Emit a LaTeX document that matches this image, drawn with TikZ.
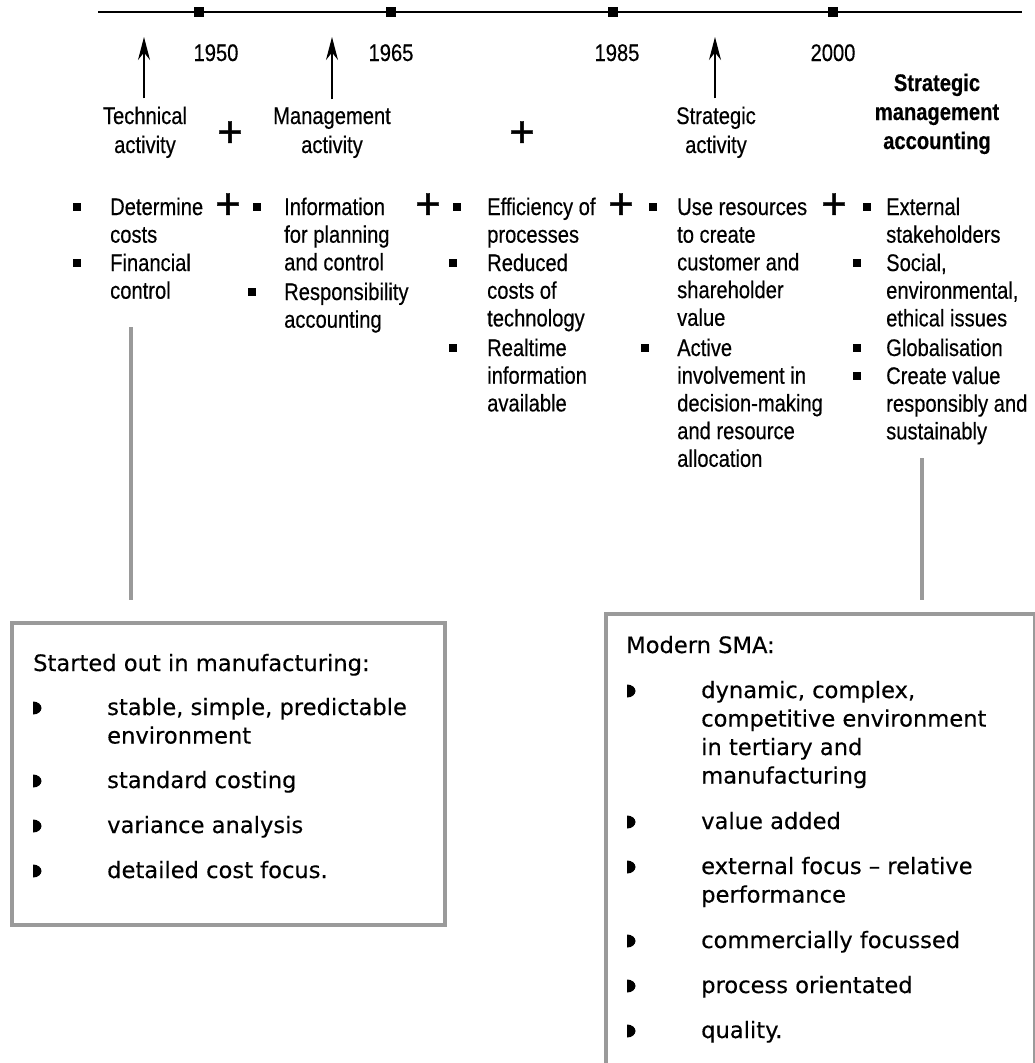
\documentclass[tikz,border=0pt]{standalone}
\usepackage{fontspec}
\setmainfont{Liberation Sans}
\newfontfamily\narrowfont[FakeStretch=0.84, FakeBold=0.4]{Liberation Sans}
\newfontfamily\plusfont[FakeBold=0.8]{Liberation Sans}
\newfontfamily\boxfont[FakeBold=0.3]{DejaVu Sans}
\usetikzlibrary{arrows.meta}

\begin{document}
\begin{tikzpicture}[x=1pt, y=-1pt,
    tick/.style={fill=black, minimum size=10pt, inner sep=0},
    yearlbl/.style={anchor=base, inner sep=0, font=\narrowfont\fontsize{24}{29}\selectfont},
    stagelbl/.style={anchor=base, inner sep=0, font=\narrowfont\fontsize{24}{29}\selectfont},
    itemtxt/.style={anchor=base west, inner sep=0, font=\narrowfont\fontsize{24}{27.7}\selectfont},
    sqbullet/.style={fill=black, minimum size=8.5pt, inner sep=0},
    plussign/.style={inner sep=0, font=\plusfont\fontsize{44}{44}\selectfont},
    boxtxt/.style={anchor=base west, inner sep=0, font=\boxfont\fontsize{22.6}{28.5}\selectfont},
    infobox/.style={draw=linkColour, line width=3.5pt, anchor=north west, inner sep=0},
    link/.style={draw=linkColour, line width=4pt},
    upArrow/.style={line width=1.3pt, -{Stealth[length=23pt, width=12pt]}}
  ]
    \useasboundingbox (0,0) rectangle (1034,1063);
    \def\tlY{12}
    \def\lblstack#1{\parbox[t]{220pt}{\centering #1}}
    \def\itembox#1{\parbox[t]{330pt}{\raggedright #1}}
    \def\halfbullet(#1,#2){\fill (#1,#2-6.5) arc[start angle=-90, end angle=90, x radius=8.5, y radius=6.5] -- cycle;}

    \definecolor{linkColour}{HTML}{9A9A9A}

    % Timeline
    \coordinate (tlStart) at (98,\tlY);
    \coordinate (tlEnd) at (1022,\tlY);
    \draw[line width=2.7pt] (tlStart) -- (tlEnd);
    \node[tick] (tk1950) at (199,\tlY) {};
    \node[tick] (tk1965) at (391,\tlY) {};
    \node[tick] (tk1985) at (613,\tlY) {};
    \node[tick] (tk2000) at (833,\tlY) {};

    \node[yearlbl] (y1950) at (216,61) {1950};
    \node[yearlbl] (y1965) at (391,61) {1965};
    \node[yearlbl] (y1985) at (617,61) {1985};
    \node[yearlbl] (y2000) at (833,61) {2000};

    % Stages
    \node[stagelbl] (techAct) at (145,124) {\lblstack{Technical\\activity}};
    \node[stagelbl] (mgmtAct) at (332,124) {\lblstack{Management\\activity}};
    \node[stagelbl] (stratAct) at (716,124) {\lblstack{Strategic\\activity}};
    \node[stagelbl, font=\narrowfont\bfseries\fontsize{24}{29}\selectfont] (smaLbl) at (937,91) {\lblstack{Strategic\\management\\accounting}};

    \coordinate (techTip) at (144,37);
    \coordinate (mgmtTip) at (332,37);
    \coordinate (stratTip) at (715,37);
    \draw[upArrow, shorten <=8pt] (techTip |- techAct.north) -- (techTip);
    \draw[upArrow, shorten <=8pt] (mgmtTip |- mgmtAct.north) -- (mgmtTip);
    \draw[upArrow, shorten <=8pt] (stratTip |- stratAct.north) -- (stratTip);

    \node[plussign] (plusA) at (230,134) {+};
    \node[plussign] (plusB) at (522,134) {+};

    % Column 1
    \node[sqbullet] (b11) at (77,207) {};
    \node[itemtxt] (i11) at (110,215) {\itembox{Determine\\costs}};
    \node[sqbullet] (b12) at (77,263) {};
    \node[itemtxt] (i12) at (110,271) {\itembox{Financial\\control}};
    \node[plussign] (p12) at (228,206) {+};

    % Column 2
    \node[sqbullet] (b21) at (257,207) {};
    \node[itemtxt] (i21) at (284,215) {\itembox{Information\\for planning\\and control}};
    \node[sqbullet] (b22) at (252,292) {};
    \node[itemtxt] (i22) at (284,300) {\itembox{Responsibility\\accounting}};
    \node[plussign] (p23) at (428,206) {+};

    % Column 3
    \node[sqbullet] (b31) at (457,207) {};
    \node[itemtxt] (i31) at (487,215) {\itembox{Efficiency of\\processes}};
    \node[sqbullet] (b32) at (453,263) {};
    \node[itemtxt] (i32) at (487,271) {\itembox{Reduced\\costs of\\technology}};
    \node[sqbullet] (b33) at (453,348) {};
    \node[itemtxt] (i33) at (487,356) {\itembox{Realtime\\information\\available}};
    \node[plussign] (p34) at (621,206) {+};

    % Column 4
    \node[sqbullet] (b41) at (653,207) {};
    \node[itemtxt] (i41) at (677,215) {\itembox{Use resources\\to create\\customer and\\shareholder\\value}};
    \node[sqbullet] (b42) at (645,348) {};
    \node[itemtxt] (i42) at (677,356) {\itembox{Active\\involvement in\\decision-making\\and resource\\allocation}};
    \node[plussign] (p45) at (834,206) {+};

    % Column 5
    \node[sqbullet] (b51) at (867,207) {};
    \node[itemtxt] (i51) at (886,215) {\itembox{External\\stakeholders}};
    \node[sqbullet] (b52) at (857,263) {};
    \node[itemtxt] (i52) at (886,271) {\itembox{Social,\\environmental,\\ethical issues}};
    \node[sqbullet] (b53) at (857,348) {};
    \node[itemtxt] (i53) at (886,356) {\itembox{Globalisation}};
    \node[sqbullet] (b54) at (857,376) {};
    \node[itemtxt] (i54) at (886,384) {\itembox{Create value\\responsibly and\\sustainably}};

    % Boxes
    \node[infobox, minimum width=433pt, minimum height=302pt] (leftBox) at (10,621) {};
    \node[infobox, minimum width=429pt, minimum height=480pt] (rightBox) at (604,612) {};

    \coordinate (techLinkTop) at (131,327);
    \coordinate (smaLinkTop) at (922,458);
    \draw[link, shorten >=21pt] (techLinkTop) -- (techLinkTop |- leftBox.north);
    \draw[link, shorten >=12pt] (smaLinkTop) -- (smaLinkTop |- rightBox.north);

    % Left box text
    \node[boxtxt] (leftHead) at (33,671) {Started out in manufacturing:};
    \node[boxtxt] (lb1) at (107,715) {\itembox{stable, simple, predictable\\environment}};
    \node[boxtxt] (lb2) at (107,788) {standard costing};
    \node[boxtxt] (lb3) at (107,833) {variance analysis};
    \node[boxtxt] (lb4) at (107,878) {detailed cost focus.};
    \halfbullet(33,708)
    \halfbullet(33,781)
    \halfbullet(33,826)
    \halfbullet(33,871)

    % Right box text
    \node[boxtxt] (rightHead) at (626,653) {Modern SMA:};
    \node[boxtxt] (rb1) at (701,698) {\itembox{dynamic, complex,\\competitive environment\\in tertiary and\\manufacturing}};
    \node[boxtxt] (rb2) at (701,829) {value added};
    \node[boxtxt] (rb3) at (701,874) {\itembox{external focus \textendash{} relative\\performance}};
    \node[boxtxt] (rb4) at (701,948) {commercially focussed};
    \node[boxtxt] (rb5) at (701,993) {process orientated};
    \node[boxtxt] (rb6) at (701,1038) {quality.};
    \halfbullet(627,691)
    \halfbullet(627,822)
    \halfbullet(627,867)
    \halfbullet(627,941)
    \halfbullet(627,986)
    \halfbullet(627,1031)
\end{tikzpicture}
\end{document}
